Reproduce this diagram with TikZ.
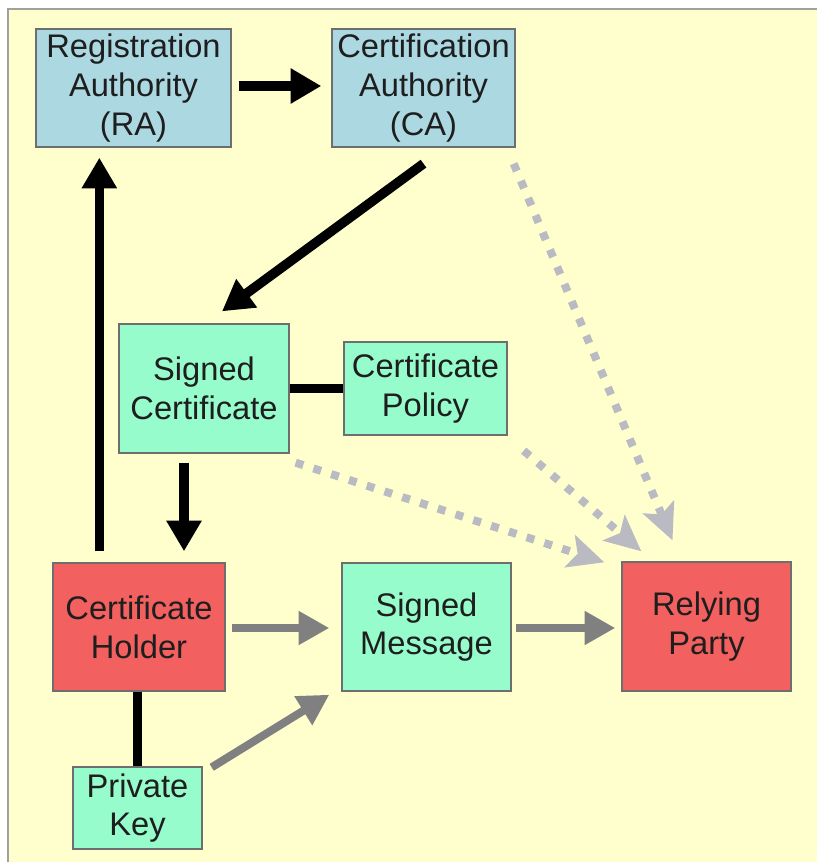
\documentclass[tikz,border=0pt]{standalone}
\usepackage{fontspec}
\setmainfont{Liberation Sans}
\usetikzlibrary{arrows.meta,calc}
\definecolor{bgyellow}{RGB}{255,255,206}
\definecolor{boxblue}{RGB}{172,216,226}
\definecolor{boxgreen}{RGB}{150,252,204}
\definecolor{boxred}{RGB}{242,96,96}
\definecolor{framegray}{RGB}{160,160,160}
\definecolor{edgegray}{RGB}{110,110,110}
\definecolor{arrowgray}{RGB}{128,128,128}
\definecolor{dotgray}{RGB}{186,186,194}
\definecolor{txt}{RGB}{30,30,30}
\tikzset{
  box/.style={draw=edgegray, line width=1pt, inner sep=0pt, align=center, text=txt,
    font=\fontsize{24.5}{29}\selectfont},
  blackarrow/.style={line width=7.2pt, black, -{Triangle[length=23pt,width=25pt]}},
  blackline/.style={line width=7pt, black},
  grayarrow/.style={line width=6pt, arrowgray, -{Triangle[length=23pt,width=24pt]}},
  dotarrow/.style={line width=6pt, dotgray, dash pattern=on 6pt off 8pt,
    -{Stealth[length=27pt,width=25pt,inset=6pt]}}
}
\begin{document}
\begin{tikzpicture}[x=0.75pt,y=-0.75pt]
\useasboundingbox (0,0) rectangle (817,862);
\fill[white] (0,0) rectangle (817,862);
\fill[bgyellow] (8,9) rectangle (817,862);
\draw[framegray, line width=1.5pt] (8,862) -- (8,9) -- (817,9);

\node[box, fill=boxblue, minimum width=146.25pt, minimum height=88.5pt] (ra) at (133.5,88) {Registration\\Authority\\(RA)};
\node[box, fill=boxblue, minimum width=137.25pt, minimum height=88.5pt] (ca) at (423.5,88) {Certification\\Authority\\(CA)};
\node[box, fill=boxgreen, minimum width=127.5pt, minimum height=96.75pt] (sc) at (204,388.5) {Signed\\Certificate};
\node[box, fill=boxgreen, minimum width=122.25pt, minimum height=69.75pt] (cp) at (425.5,388.5) {Certificate\\Policy};
\node[box, fill=boxred, minimum width=129pt, minimum height=96pt] (ch) at (139,627) {Certificate\\Holder};
\node[box, fill=boxgreen, minimum width=96.75pt, minimum height=61.5pt] (pk) at (137.5,808) {Private\\Key};
\node[box, fill=boxgreen, minimum width=126.75pt, minimum height=96pt] (sm) at (426.5,627) {Signed\\Message};
\node[box, fill=boxred, minimum width=126.75pt, minimum height=96.75pt] (rp) at (706.5,626.5) {Relying\\Party};

% dotted arrows to relying party
\draw[dotarrow] ($(ca.south east)+(-2,16)$) -- ($(rp.north)+(-34,-21)$);
\draw[dotarrow] ($(cp.south east)+(16,15)$) -- ($(rp.north west)+(20,-10)$);
\draw[dotarrow] ($(sc.south east)+(6,9)$) -- ($(rp.north west)+(-17,1)$);

% black arrows
\draw[blackarrow] ($(ra.east)+(7,-2)$) -- ($(ca.west)+(-10,-2)$);
\draw[blackarrow] ($(ca.south)+(0,16)$) -- ($(sc.north)+(18,-12)$);
\draw[blackarrow] ($(ch.north west)+(47,-11)$) -- ($(ra.south west)+(64,10)$);
\draw[blackarrow] ($(sc.south)+(-20,9)$) -- ($(ch.north)+(45,-11)$);
\draw[blackline] (sc.east) -- (cp.west);
\draw[blackline] ($(ch.south)+(-1.5,0)$) -- (pk.north);

% gray arrows
\draw[grayarrow] ($(ch.east)+(6,1)$) -- ($(sm.west)+(-12,1)$);
\draw[grayarrow] ($(sm.east)+(4,1)$) -- ($(rp.west)+(-6,1.5)$);
\draw[grayarrow] ($(pk.north east)+(9,1)$) -- ($(sm.south west)+(-12,3)$);
\end{tikzpicture}
\end{document}
